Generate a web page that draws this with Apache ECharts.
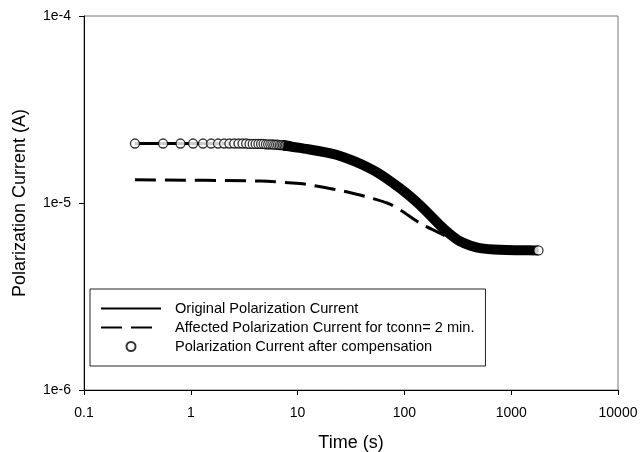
<!DOCTYPE html>
<html>
<head>
<meta charset="utf-8">
<script src="https://cdn.jsdelivr.net/npm/echarts@6/dist/echarts.min.js"></script>
<style>
  html, body { margin: 0; padding: 0; background: #fff; }
  #chart { width: 640px; height: 452px; }
</style>
</head>
<body>
<div id="chart"></div>
<script>
// original polarization current
var origTime = [0.3, 1, 4.5, 10.5, 23, 51, 91, 140, 215, 267, 330, 411, 510, 785, 1200, 1800];
var origCurrent = [2.08e-5, 2.08e-5, 2.07e-5, 1.97e-5, 1.81e-5, 1.50e-5, 1.20e-5, 9.75e-6, 7.62e-6, 6.82e-6, 6.25e-6, 5.93e-6, 5.74e-6, 5.62e-6, 5.59e-6, 5.58e-6];

// affected current, tconn = 2 min
var affTime = [0.3, 4.5, 10.5, 13, 26.5, 44, 69, 91, 140, 215, 310];
var affCurrent = [1.33e-5, 1.31e-5, 1.27e-5, 1.25e-5, 1.16e-5, 1.08e-5, 1.0e-5, 9.2e-6, 7.8e-6, 6.9e-6, 6.18e-6];

// compensated points that are still visible as single circles
var compTime = [0.3, 0.55, 0.8, 1.05, 1.3, 1.55, 1.8, 2.05, 2.3, 2.55, 2.8, 3.05, 3.3, 3.55, 3.8, 4.05,
  4.3, 4.55, 4.8, 5.05, 5.3, 5.55, 5.8, 6.05, 6.3, 6.55, 6.8, 7.05, 7.3, 7.55, 7.8, 8.05, 8.3];
var compCurrent = [2.08e-5, 2.08e-5, 2.08e-5, 2.08e-5, 2.08e-5, 2.08e-5, 2.08e-5, 2.08e-5, 2.08e-5, 2.08e-5,
  2.08e-5, 2.08e-5, 2.08e-5, 2.07e-5, 2.07e-5, 2.07e-5, 2.07e-5, 2.07e-5, 2.07e-5, 2.06e-5, 2.06e-5,
  2.06e-5, 2.06e-5, 2.05e-5, 2.05e-5, 2.05e-5, 2.04e-5, 2.04e-5, 2.04e-5, 2.03e-5, 2.03e-5, 2.02e-5, 2.02e-5];
// dense part where the circles merge into a black band
var bandTime = [7.4, 10.5, 23, 51, 91, 140, 215, 267, 330, 411, 510, 785, 1200, 1800];
var bandCurrent = [2.03e-5, 1.97e-5, 1.81e-5, 1.50e-5, 1.20e-5, 9.75e-6, 7.62e-6, 6.82e-6, 6.25e-6, 5.93e-6, 5.74e-6, 5.62e-6, 5.59e-6, 5.58e-6];
var lastTime = [1800];
var lastCurrent = [5.58e-6];

var seriesNames = ['Original Polarization Current', 'Affected Polarization Current for tconn= 2 min.', 'Polarization Current after compensation'];

function pairs(xs, ys) {
  return xs.map(function (x, i) { return [x, ys[i]]; });
}

var FONT = 'Liberation Sans, Arial, Helvetica, sans-serif';
var hideDot = { opacity: 0, color: 'rgba(0,0,0,0)', borderWidth: 0 };

var chart = echarts.init(document.getElementById('chart'));

chart.setOption({
  backgroundColor: '#fff',
  animation: false,
  textStyle: { fontFamily: FONT, color: '#000' },
  grid: {
    left: 84, right: 22, top: 16, bottom: 62,
    outerBoundsMode: 'none',
    show: true, borderColor: '#777', borderWidth: 1
  },
  legend: {
    orient: 'vertical',
    left: 90, top: 289,
    padding: [12, 11, 12, 10],
    borderColor: '#222', borderWidth: 1,
    itemWidth: 60, itemHeight: 9, itemGap: 4,
    selectedMode: false,
    textStyle: { fontFamily: FONT, fontSize: 14.6, color: '#000', padding: [0, 0, 0, 9] },
    data: [
      { name: seriesNames[0], itemStyle: hideDot },
      { name: seriesNames[1], itemStyle: hideDot },
      { name: seriesNames[2] }
    ]
  },
  xAxis: {
    type: 'log', logBase: 10, min: 0.1, max: 10000, interval: 1,
    name: 'Time (s)', nameLocation: 'middle', nameGap: 44,
    nameTextStyle: { fontFamily: FONT, fontSize: 18, color: '#000' },
    axisLine: { lineStyle: { color: '#000', width: 1 } },
    axisTick: { inside: false, length: 5, lineStyle: { color: '#000' } },
    minorTick: { show: false },
    splitLine: { show: false },
    axisLabel: {
      fontFamily: FONT, fontSize: 14, color: '#000', margin: 16,
      formatter: function (v) {
        var e = Math.round(Math.log10(v));
        return e < 0 ? Math.pow(10, e).toFixed(-e) : String(Math.pow(10, e));
      }
    }
  },
  yAxis: {
    type: 'log', logBase: 10, min: 1e-6, max: 1e-4, interval: 1,
    name: 'Polarization Current (A)', nameLocation: 'middle', nameGap: 55,
    nameTextStyle: { fontFamily: FONT, fontSize: 18, color: '#000' },
    axisLine: { lineStyle: { color: '#000', width: 1 } },
    axisTick: { inside: false, length: 5, lineStyle: { color: '#000' } },
    minorTick: { show: false },
    splitLine: { show: false },
    axisLabel: {
      fontFamily: FONT, fontSize: 14, color: '#000', margin: 13,
      formatter: function (v) {
        return '1e' + Math.round(Math.log10(v));
      }
    }
  },
  series: [
    {
      name: seriesNames[0], type: 'line', smooth: 0.3,
      symbol: 'none', showSymbol: false,
      lineStyle: { color: '#000', width: 3 },
      itemStyle: { color: '#000' },
      data: pairs(origTime, origCurrent), z: 2
    },
    {
      name: seriesNames[1], type: 'line', smooth: 0.3,
      symbol: 'none', showSymbol: false,
      lineStyle: { color: '#000', width: 3, type: [21, 9] },
      itemStyle: { color: '#000' },
      data: pairs(affTime, affCurrent), z: 6
    },
    {
      name: seriesNames[2], type: 'scatter',
      symbol: 'circle', symbolSize: 9,
      itemStyle: { color: '#fff', borderColor: '#000', borderWidth: 1.3 },
      data: pairs(compTime, compCurrent), z: 3
    },
    {
      name: 'band', type: 'line', smooth: 0.3,
      symbol: 'none', showSymbol: false,
      lineStyle: { color: '#000', width: 10, cap: 'butt' },
      data: pairs(bandTime, bandCurrent), z: 4
    },
    {
      name: seriesNames[2], type: 'scatter',
      symbol: 'circle', symbolSize: 9,
      itemStyle: { color: '#fff', borderColor: '#000', borderWidth: 1.3 },
      data: pairs(lastTime, lastCurrent), z: 7
    }
  ]
});
</script>
</body>
</html>
